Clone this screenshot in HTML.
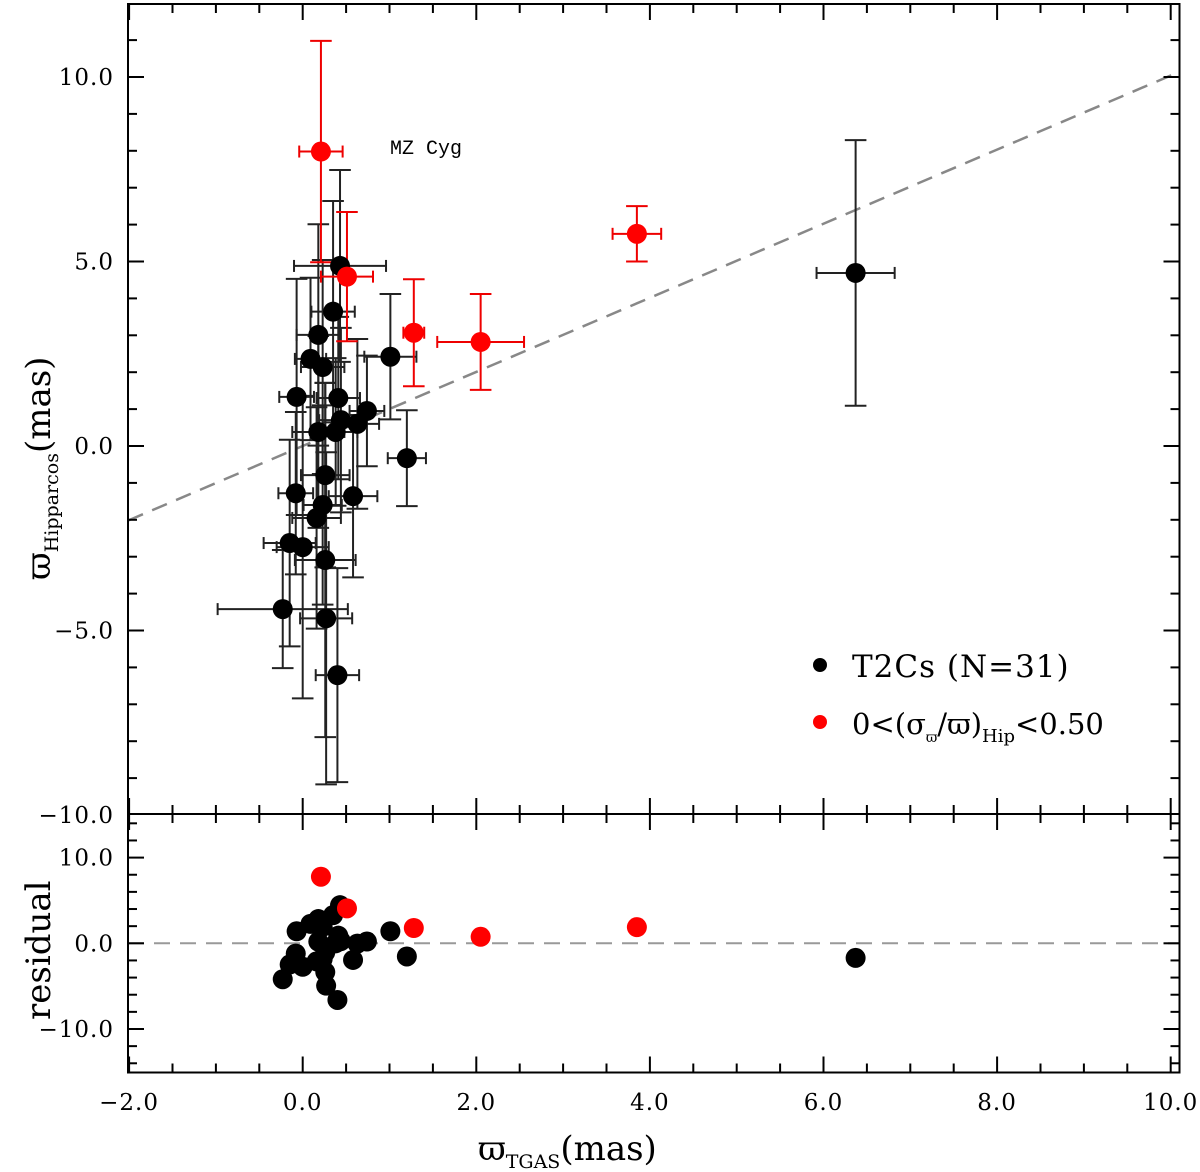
<!DOCTYPE html>
<html><head><meta charset="utf-8"><style>
body{margin:0;background:#fff}
svg{display:block}
text{font-family:"DejaVu Serif","Liberation Serif",serif;fill:#000}
</style></head><body>
<svg id="chart" width="1200" height="1172" viewBox="0 0 1200 1172">
<g id="grid"></g>
</svg>
<script>
// data
const tgas   = [0.43,0.35,0.18,0.09,0.23,1.01,-0.07,0.41,0.74,0.63,0.44,0.18,0.38,1.20,0.26,0.58,-0.08,0.23,0.16,-0.15,0.00,0.26,-0.23,0.27,0.40,6.37];
const hip    = [4.88,3.64,3.01,2.36,2.14,2.42,1.33,1.30,0.95,0.60,0.70,0.38,0.38,-0.33,-0.79,-1.36,-1.28,-1.60,-1.95,-2.63,-2.74,-3.09,-4.42,-4.67,-6.21,4.69];
const tgasErr= [0.53,0.25,0.25,0.18,0.25,0.30,0.20,0.25,0.20,0.25,0.25,0.30,0.25,0.22,0.28,0.28,0.20,0.22,0.28,0.30,0.30,0.35,0.75,0.30,0.25,0.45];
const hipErr = [2.6,3.0,3.0,2.2,2.9,1.7,3.2,2.2,1.5,2.3,2.5,2.6,2.0,1.3,2.5,2.2,2.2,2.7,3.0,2.8,4.1,4.8,1.6,4.5,2.9,3.6];
const redTgas   = [0.21,0.51,1.28,2.05,3.85];
const redHip    = [7.98,4.59,3.07,2.82,5.75];
const redTgasErr= [0.25,0.30,0.12,0.50,0.28];
const redHipErr = [3.0,1.75,1.45,1.3,0.75];
const fitA = 0.0, fitB = 1.004;
const xTicks = [-2,0,2,4,6,8,10];
const yTopTicks = [10,5,0,-5,-10];
const yBotTicks = [10,0,-10];

const NS="http://www.w3.org/2000/svg";
const svg=document.getElementById('chart');
const L=128,R=1179.5,T=4,M=814,B=1072.5;
const X=v=>302.7+86.8*v;
const Y=v=>446-36.9*v;
const Yr=v=>943.3-8.57*v;
function el(tag,attrs,parent){const e=document.createElementNS(NS,tag);for(const k in attrs)e.setAttribute(k,attrs[k]);(parent||svg).appendChild(e);return e;}
function line(x1,y1,x2,y2,st,w,dash){return el('line',{x1,y1,x2,y2,stroke:st||'#000','stroke-width':w||2,'stroke-dasharray':dash||'none'});}

let fl=line(X(-2.01),Y(fitA+fitB*-2.01),X(10.1),Y(fitA+fitB*10.1),'#888',2.5,'16 10');


let zl=line(L,Yr(0),R,Yr(0),'#999',2,'16 10');



function errbar(x,y,xe,ye,col,name){
  const g=el('g',{});
  
  
  const c=6;
  el('line',{x1:X(x-xe),y1:Y(y),x2:X(x+xe),y2:Y(y),stroke:col,'stroke-width':2},g);
  el('line',{x1:X(x-xe),y1:Y(y)-c,x2:X(x-xe),y2:Y(y)+c,stroke:col,'stroke-width':2},g);
  el('line',{x1:X(x+xe),y1:Y(y)-c,x2:X(x+xe),y2:Y(y)+c,stroke:col,'stroke-width':2},g);
  el('line',{x1:X(x),y1:Y(y-ye),x2:X(x),y2:Y(y+ye),stroke:col,'stroke-width':2},g);
  el('line',{x1:X(x)-c*1.8,y1:Y(y-ye),x2:X(x)+c*1.8,y2:Y(y-ye),stroke:col,'stroke-width':2},g);
  el('line',{x1:X(x)-c*1.8,y1:Y(y+ye),x2:X(x)+c*1.8,y2:Y(y+ye),stroke:col,'stroke-width':2},g);
}
tgas.forEach((v,i)=>errbar(v,hip[i],tgasErr[i],hipErr[i],'#222','errorbar-t2c'));
redTgas.forEach((v,i)=>errbar(v,redHip[i],redTgasErr[i],redHipErr[i],'#e00','errorbar-red'));
tgas.forEach((v,i)=>{const c=el('circle',{cx:X(v),cy:Y(hip[i]),r:10,fill:'#000'});
  
  });
redTgas.forEach((v,i)=>{const c=el('circle',{cx:X(v),cy:Y(redHip[i]),r:10,fill:'#f00'});
  
  });
tgas.forEach((v,i)=>{const c=el('circle',{cx:X(v),cy:Yr(hip[i]-(fitA+fitB*v)),r:10,fill:'#000'});
  
  });
redTgas.forEach((v,i)=>{const c=el('circle',{cx:X(v),cy:Yr(redHip[i]-(fitA+fitB*v)),r:10,fill:'#f00'});
  
  });

const f=el('rect',{x:L,y:T,width:R-L,height:B-T,fill:'none',stroke:'#000','stroke-width':2});


line(L,M,R,M,'#000',2);

for(let v=-2;v<=10.01;v+=0.5){
  const maj=Math.abs(v-Math.round(v/2)*2)<1e-6; const len=maj?16:9; const x=X(v);
  if(x<L+1||x>R-1)continue;
  line(x,T,x,T+len,'#000',2);
  line(x,M-len,x,M+len,'#000',2);
  line(x,B,x,B-len,'#000',2);
}
for(let v=-10;v<=12;v+=1){const maj=v%5===0;const len=maj?16:9;const y=Y(v);if(y<T+1||y>M-1)continue;
  line(L,y,L+len,y,'#000',2);line(R,y,R-len,y,'#000',2);}
for(let v=-14;v<=14;v+=2){const maj=v%10===0;const len=maj?16:9;const y=Yr(v);
  line(L,y,L+len,y,'#000',2);line(R,y,R-len,y,'#000',2);}

function txt(x,y,s,size,anchor,name){const t=el('text',{x,y,'font-size':size,'text-anchor':anchor||'middle','letter-spacing':'1'});t.textContent=s;
  
  return t;}
const fmt=v=>(v<0?'\u2212':'')+Math.abs(v).toFixed(1);
xTicks.forEach(v=>txt(X(v),1110,fmt(v),23,'middle','x-tick-label'));
yTopTicks.forEach(v=>txt(114,Y(v)+8,fmt(v),23,'end','y-tick-label'));
yBotTicks.forEach(v=>txt(114,Yr(v)+8,fmt(v),23,'end','residual-tick-label'));
</script>
<div style="position:absolute;left:0;top:0;width:1200px;height:1172px;pointer-events:none">
<svg width="1200" height="1172">
<text x="478" y="1160" font-size="34" style="font-family:'DejaVu Serif',serif">ϖ<tspan font-size="19" dy="8">TGAS</tspan><tspan dy="-8">(mas)</tspan></text>
<text transform="translate(50,580) rotate(-90)" font-size="34" style="font-family:'DejaVu Serif',serif">ϖ<tspan font-size="19" dy="8">Hipparcos</tspan><tspan dy="-8">(mas)</tspan></text>
<text transform="translate(50,1020) rotate(-90)" font-size="34" style="font-family:'DejaVu Serif',serif">residual</text>
<text x="390" y="154" font-size="20" style="font-family:'Liberation Mono',monospace">MZ Cyg</text>
<circle cx="820" cy="665" r="7" fill="#000"/>
<text x="852" y="677" font-size="31" letter-spacing="1" style="font-family:'DejaVu Serif',serif">T2Cs (N=31)</text>
<circle cx="820" cy="722" r="7" fill="#f00"/>
<text x="852" y="734" font-size="29" style="font-family:'DejaVu Serif',serif">0&lt;(σ<tspan font-size="14" dy="8">ϖ</tspan><tspan dy="-8">/ϖ)</tspan><tspan font-size="18" dy="8">Hip</tspan><tspan dy="-8">&lt;0.50</tspan></text>
</svg></div>
</body></html>
